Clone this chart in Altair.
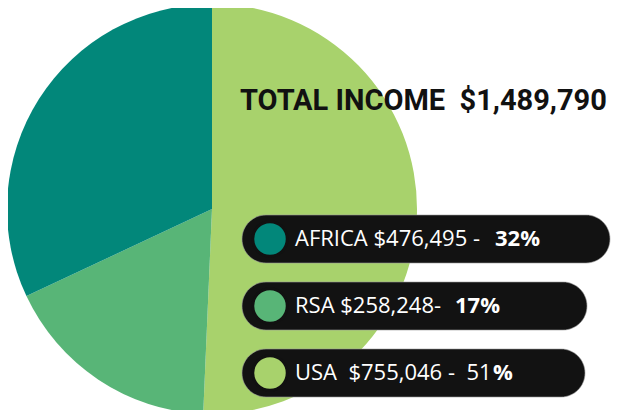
import altair as alt
import pandas as pd

NB = "\u00a0"

# ---- data ----
regions = ["USA", "RSA", "AFRICA"]
incomes = [755046, 258248, 476495]
shares = [51, 17, 32]
colors = ["#A8D26C", "#58B577", "#02877A"]
title_text = "TOTAL INCOME" + NB + NB + "$1,489,790"

legend_regions = ["AFRICA", "RSA", "USA"]
legend_main = ["AFRICA $476,495 -" + NB + NB, "RSA $258,248-" + NB, "USA" + NB + NB + "$755,046 -" + NB + NB + "51"]
legend_bold = ["32%", "17%", "%"]

# ---- layout (pixels inside the chart) ----
PIE_CX, PIE_CY, PIE_R = 204, 201, 205
PILL_LEFT = 234
PILL_HALF = 24
pill_cy = [231, 298, 365]
pill_right = [602, 579, 577]
bold_x = [487, 447, 485]

pie_df = pd.DataFrame({"region": regions, "income": incomes, "share": shares,
                       "order": list(range(len(regions)))})

leg_df = pd.DataFrame({
    "region": legend_regions,
    "main": legend_main,
    "bold": legend_bold,
    "cy": pill_cy,
    "left": [PILL_LEFT] * 3,
    "right": pill_right,
    "bx": bold_x,
})
leg_df["top"] = leg_df["cy"] - PILL_HALF
leg_df["bottom"] = leg_df["cy"] + PILL_HALF

color_scale = alt.Scale(domain=regions, range=colors)

pie = alt.Chart(pie_df).mark_arc(outerRadius=PIE_R, strokeWidth=0).encode(
    theta=alt.Theta("income:Q", stack=True),
    color=alt.Color("region:N", scale=color_scale, legend=None),
    order=alt.Order("order:Q"),
    x=alt.value(PIE_CX),
    y=alt.value(PIE_CY),
)

title = alt.Chart(pd.DataFrame({"t": [title_text]})).mark_text(
    align="left", baseline="alphabetic", font="Roboto", fontSize=29,
    fontWeight="bold", color="#111111"
).encode(text="t:N", x=alt.value(232), y=alt.value(102))

pills = alt.Chart(leg_df).mark_rect(
    cornerRadius=PILL_HALF, color="#121212", stroke="#9a9a9a",
    strokeWidth=1, strokeOpacity=0.6
).encode(
    x=alt.X("left:Q", scale=None), x2="right:Q",
    y=alt.Y("top:Q", scale=None), y2="bottom:Q",
)

dots = alt.Chart(leg_df).mark_point(
    shape="circle", filled=True, size=1190, stroke="#111111",
    strokeWidth=3, opacity=1
).encode(
    x=alt.value(262),
    y=alt.Y("cy:Q", scale=None),
    color=alt.Color("region:N", scale=color_scale, legend=None),
)

main_txt = alt.Chart(leg_df).mark_text(
    align="left", baseline="middle", font="Open Sans", fontSize=22, color="white"
).encode(x=alt.value(287), y=alt.Y("cy:Q", scale=None), text="main:N")

bold_txt = alt.Chart(leg_df).mark_text(
    align="left", baseline="middle", font="Open Sans", fontSize=22,
    fontWeight="bold", color="white"
).encode(x=alt.X("bx:Q", scale=None), y=alt.Y("cy:Q", scale=None), text="bold:N")

chart = alt.layer(pie, title, pills, dots, main_txt, bold_txt).properties(
    width=603, height=402, autosize="none", padding=0, background="white"
).configure_view(strokeWidth=0)

chart.save("out.html", embed_options={"renderer": "svg", "actions": False})
